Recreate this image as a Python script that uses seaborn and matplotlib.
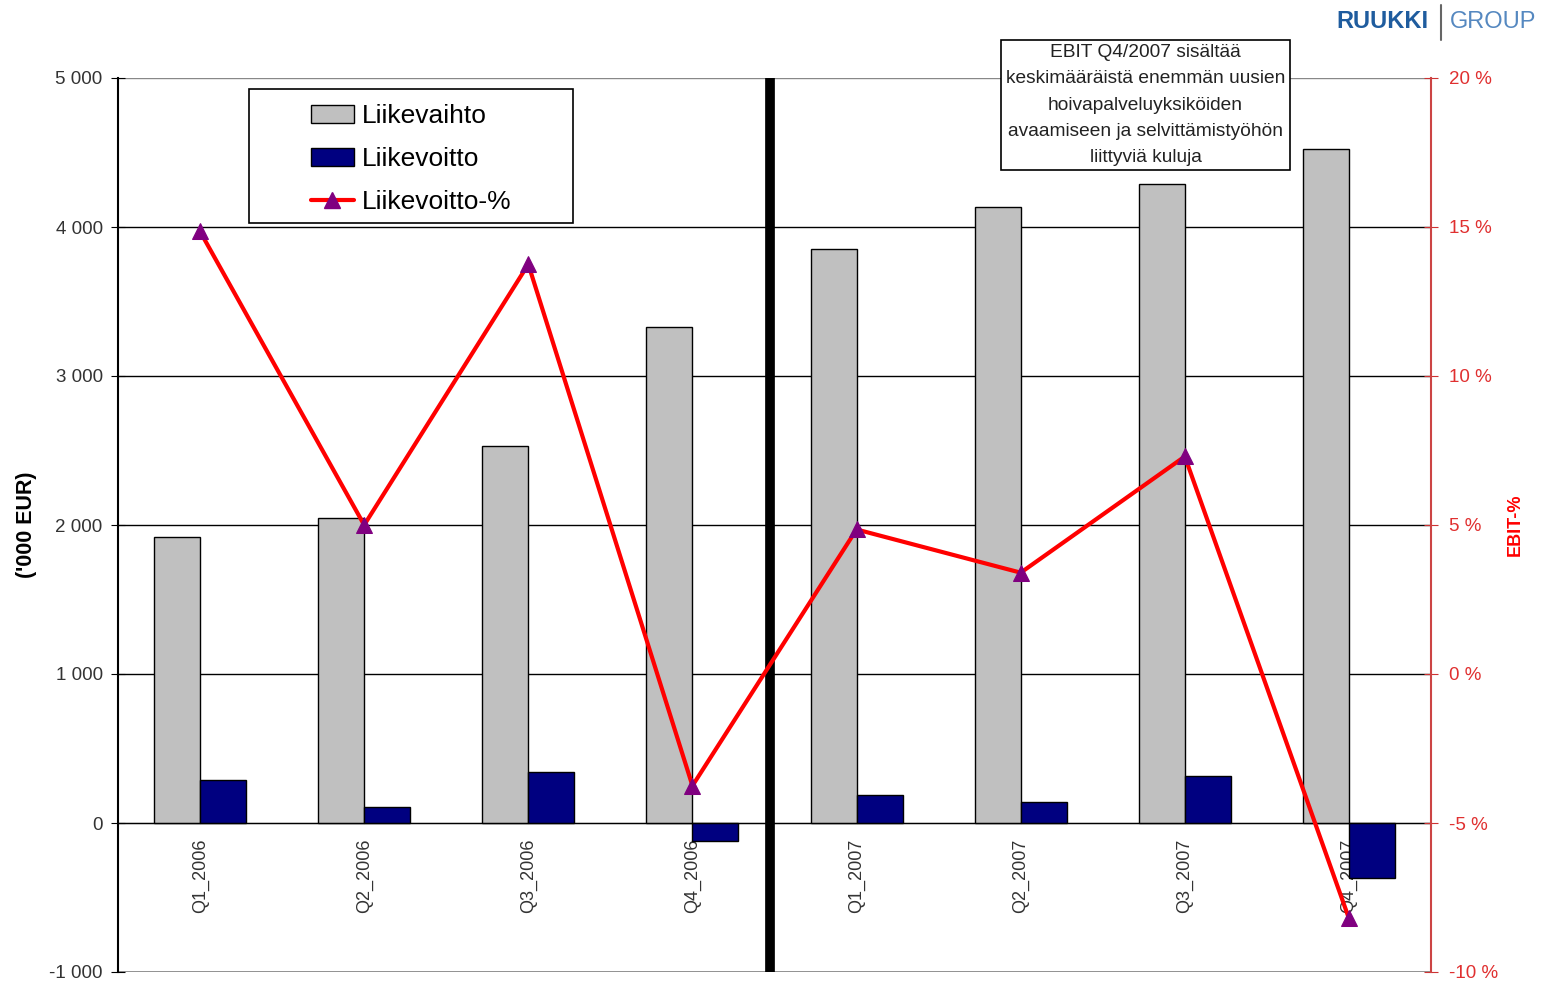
import numpy as np
import pandas as pd
import matplotlib.pyplot as plt
import seaborn as sns
from matplotlib.patches import Patch, Rectangle
from matplotlib.lines import Line2D
from matplotlib.ticker import FuncFormatter, FixedLocator

# data
kvartaalit = ["Q1_2006", "Q2_2006", "Q3_2006", "Q4_2006",
              "Q1_2007", "Q2_2007", "Q3_2007", "Q4_2007"]
liikevaihto = [1920, 2045, 2530, 3330, 3855, 4135, 4290, 4525]
liikevoitto = [288, 107, 342, -121, 188, 141, 315, -369]
ebit_pct = [14.85, 5.0, 13.75, -3.75, 4.85, 3.4, 7.3, -8.2]

sns.set_style("white")
plt.rcParams["font.family"] = ["Liberation Sans", "DejaVu Sans"]

df = pd.DataFrame({
    "Kvartaali": kvartaalit * 2,
    "Arvo": liikevaihto + liikevoitto,
    "Sarja": ["Liikevaihto"] * 8 + ["Liikevoitto"] * 8,
})

fig = plt.figure(figsize=(15.43, 9.81), dpi=100)
ax = fig.add_axes([118 / 1543, 9 / 981, 1313 / 1543, 894 / 981])

txt = "#333333"

sns.barplot(data=df, x="Kvartaali", y="Arvo", hue="Sarja", order=kvartaalit,
            palette=["#C0C0C0", "#000080"], saturation=1, width=0.56,
            edgecolor="black", linewidth=1, errorbar=None, legend=False, ax=ax)

ax.set_ylim(-1000, 5000)
ax.set_yticks(range(-1000, 5001, 1000))
ax.yaxis.set_major_formatter(FuncFormatter(lambda v, p: f"{v:,.0f}".replace(",", " ")))
ax.set_axisbelow(True)
ax.yaxis.grid(True, color="black", lw=1)
gl = ax.get_ygridlines()
gl[0].set_color("#888888")
gl[0].set_linewidth(2)
gl[-1].set_color("#888888")
ax.set_xlabel("")
ax.set_ylabel("('000 EUR)", fontsize=15.5, fontweight="bold", color="black", labelpad=9)

# x axis sits on zero
ax.spines["bottom"].set_position(("data", 0))
ax.spines["bottom"].set_color("black")
ax.spines["top"].set_visible(False)
ax.spines["right"].set_visible(False)
ax.spines["left"].set_color("black")
ax.spines["left"].set_linewidth(1.5)
ax.xaxis.set_minor_locator(FixedLocator(np.arange(-0.5, 8, 1)))
ax.tick_params(axis="x", which="major", length=0, pad=11, labelsize=13,
               labelcolor=txt, labelrotation=90)
ax.tick_params(axis="x", which="minor", direction="inout", length=10, color="black")
ax.tick_params(axis="y", direction="inout", length=10, labelsize=13.5,
               labelcolor=txt, color="black", pad=6)

# divider between years
ax.axvline(3.47, color="black", lw=7, zorder=3)

ax2 = ax.twinx()
sns.lineplot(x=np.arange(len(kvartaalit)), y=ebit_pct, ax=ax2, color="#FF0000",
             lw=3, marker="^", markersize=12, markerfacecolor="#800080",
             markeredgecolor="#800080", zorder=4)
ax.set_xlim(-0.5, 7.5)
ax2.set_ylim(-10, 20)
ax2.set_yticks(range(-10, 21, 5))
ax2.yaxis.set_major_formatter(FuncFormatter(lambda v, p: f"{v:.0f} %"))
ax2.tick_params(axis="y", direction="inout", length=10, labelsize=13.5,
                labelcolor="#E03030", color="#CC3333", pad=8)
for s in ["top", "bottom", "left"]:
    ax2.spines[s].set_visible(False)
ax2.spines["right"].set_color("#CC4444")
ax2.spines["right"].set_linewidth(1.5)
ax2.set_ylabel("EBIT-%", fontsize=13, fontweight="bold", color="#FF0000", labelpad=6)

# legend in a white frame
ax2.add_patch(Rectangle((0.0998, 0.8378), 0.2468, 0.1499, transform=ax2.transAxes,
                        facecolor="white", edgecolor="black", lw=1.2, zorder=6))
handles = [
    Patch(facecolor="#C0C0C0", edgecolor="black"),
    Patch(facecolor="#000080", edgecolor="black"),
    Line2D([], [], color="#FF0000", lw=3, marker="^", markersize=12,
           markerfacecolor="#800080", markeredgecolor="#800080"),
]
leg = ax2.legend(handles, ["Liikevaihto", "Liikevoitto", "Liikevoitto-%"],
                 loc="center", bbox_to_anchor=(0.2233, 0.909), frameon=False,
                 fontsize=19, handlelength=1.6, handletextpad=0.3, labelspacing=0.72,
                 labelcolor="black")
leg.set_zorder(7)

# note box
fig.text(1145.5 / 1543, 1 - 105 / 981,
         "EBIT Q4/2007 sisältää\nkeskimääräistä enemmän uusien\nhoivapalveluyksiköiden\n"
         "avaamiseen ja selvittämistyöhön\nliittyviä kuluja",
         ha="center", va="center", fontsize=13.8, linespacing=1.7, color="#222222",
         bbox=dict(boxstyle="square,pad=0.25", facecolor="white", edgecolor="black", lw=1.2))

# logo
fig.text(1336 / 1543, 1 - 22 / 981, "RUUKKI", fontsize=17, fontweight="bold",
         color="#1F5C9E", ha="left", va="center")
fig.text(1450 / 1543, 1 - 22 / 981, "GROUP", fontsize=17, color="#5588C0",
         ha="left", va="center")
fig.add_artist(Line2D([1441 / 1543] * 2, [1 - 5 / 981, 1 - 40 / 981],
                      transform=fig.transFigure, color="#666666", lw=1.5))

fig.savefig("out.png", dpi=100)
